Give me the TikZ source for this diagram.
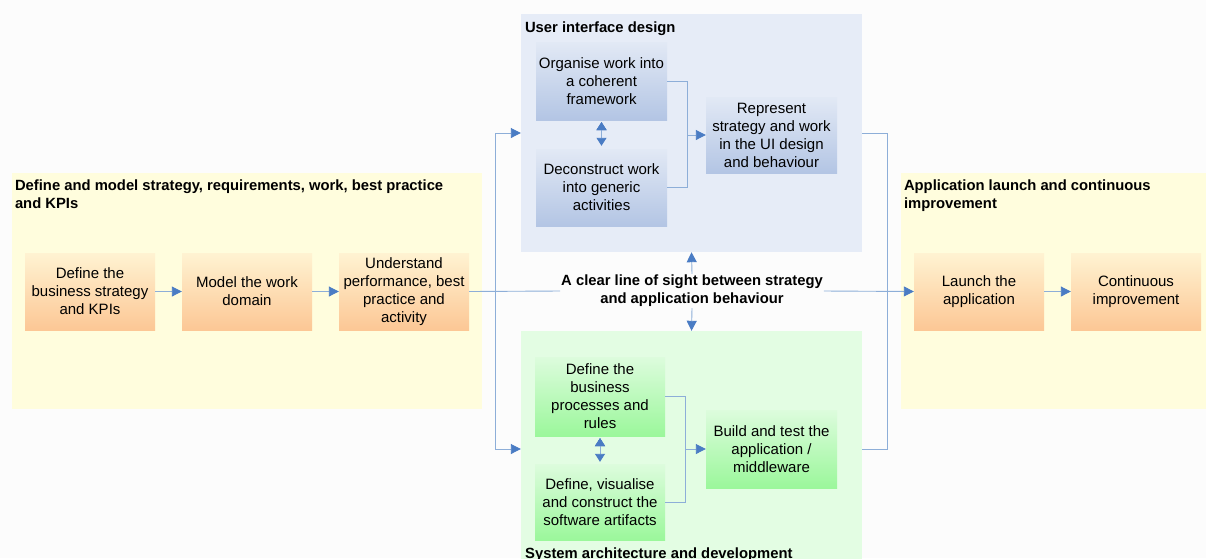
\documentclass[tikz,border=0pt]{standalone}
\usepackage{fontspec}
\setmainfont{Liberation Sans}
\usetikzlibrary{arrows.meta}

\definecolor{tipblue}{HTML}{4A7CC4}
\definecolor{lineblue}{HTML}{8DAED8}
\definecolor{paleyellow}{HTML}{FFFDDD}
\definecolor{paleblue}{HTML}{E6ECF7}
\definecolor{palegreen}{HTML}{E3FDE3}
\definecolor{orangetop}{HTML}{FFF3D2}
\definecolor{orangebot}{HTML}{FCC795}
\definecolor{bluetop}{HTML}{E2E9F5}
\definecolor{bluebot}{HTML}{B3C5E4}
\definecolor{greentop}{HTML}{DDFCDD}
\definecolor{greenbot}{HTML}{9BF79B}

\tikzset{
    panel/.style = {draw=none, inner sep=0pt},
    paneltitle/.style = {anchor=north west, align=left, inner sep=0pt,
        font=\fontsize{14.8}{18}\selectfont\bfseries},
    stage/.style = {draw=none, inner sep=1pt, align=center,
        font=\fontsize{15}{18}\selectfont},
    orangebox/.style = {stage, top color=orangetop, bottom color=orangebot,
        minimum width=130pt, minimum height=77pt},
    bluebox/.style = {stage, top color=bluetop, bottom color=bluebot,
        minimum width=131pt, minimum height=77pt},
    greenbox/.style = {stage, top color=greentop, bottom color=greenbot,
        minimum width=130pt, minimum height=77pt},
    link/.style = {draw=lineblue, line width=0.9pt},
    arr/.style = {link, -{Triangle[length=10pt,width=10pt,color=tipblue]}},
    dblarr/.style = {link, {Triangle[length=8pt,width=10pt,color=tipblue]}-{Triangle[length=8pt,width=10pt,color=tipblue]}}
}

\begin{document}
\begin{tikzpicture}[x=1pt, y=-1pt]
    \fill[white!98!gray] (0,0) rectangle (1206,558);
    \useasboundingbox (0,0) rectangle (1206,558);

    % panels
    \node[panel, fill=paleyellow, minimum width=470pt, minimum height=236pt] (define) at (247,291) {};
    \node[panel, fill=paleyellow, minimum width=310pt, minimum height=236pt] (launchp) at (1056,291) {};
    \node[panel, fill=paleblue, minimum width=341pt, minimum height=238pt] (ui) at (691.5,133) {};
    \node[panel, fill=palegreen, minimum width=341pt, minimum height=236pt] (sys) at (691.5,449) {};

    \node[paneltitle] (defineT) at ([xshift=3pt,yshift=-7pt]define.north west)
        {Define and model strategy, requirements, work, best practice\\and KPIs};
    \node[paneltitle] (launchT) at ([xshift=3pt,yshift=-7pt]launchp.north west)
        {Application launch and continuous\\improvement};
    \node[paneltitle] (uiT) at ([xshift=4pt,yshift=-8pt]ui.north west) {User interface design};
    \node[paneltitle] (sysT) at (525,548) {System architecture and development};

    % stages
    \node[orangebox] (strategy) at (90,291.5) {Define the\\business strategy\\and KPIs};
    \node[orangebox] (domain) at (247,291.5) {Model the work\\domain};
    \node[orangebox] (perform) at (404,291.5) {Understand\\performance, best\\practice and\\activity};
    \node[orangebox] (launch) at (979,291.5) {Launch the\\application};
    \node[orangebox] (improve) at (1136,291.5) {Continuous\\improvement};

    \node[bluebox, minimum height=78pt] (organise) at (601.5,81) {Organise work into\\a coherent\\framework};
    \node[bluebox] (deconstruct) at (601.5,187.5) {Deconstruct work\\into generic\\activities};
    \node[bluebox, minimum height=76pt] (represent) at (771.5,135) {Represent\\strategy and work\\in the UI design\\and behaviour};

    \node[greenbox, minimum height=79pt] (processes) at (600,396.5) {Define the\\business\\processes and\\rules};
    \node[greenbox, minimum height=76pt] (artifacts) at (600,502) {Define, visualise\\and construct the\\software artifacts};
    \node[greenbox, minimum width=131pt, minimum height=78pt] (build) at (771.5,449) {Build and test the\\application /\\middleware};

    \node[align=center, inner sep=1pt, font=\fontsize{14.8}{18}\selectfont\bfseries] (sight) at (692,291)
        {A clear line of sight between strategy\\and application behaviour};

    \coordinate (uijoin) at (687,135);
    \coordinate (sysjoin) at (685,449);
    \coordinate (lsplit) at (495,291);
    \coordinate (rsplit) at (887,291);

    % connectors
    \path [arr] (strategy) edge (domain);
    \path [arr] (domain) edge (perform);
    \path [arr] (launch) edge (improve);

    \path [dblarr] ([yshift=-2pt]organise.south) edge ([yshift=3pt]deconstruct.north);
    \path [dblarr] ([yshift=-2pt]processes.south) edge ([yshift=2pt]artifacts.north);

    \draw [link] (organise.east) -| (uijoin) |- (deconstruct.east);
    \draw [arr] (uijoin) -- (represent.west);
    \draw [link] (processes.east) -| (sysjoin) |- (artifacts.east);
    \draw [arr] (sysjoin) -- (build.west);

    \draw [link] (perform.east) -- (sight.west);
    \draw [arr] (lsplit) |- (ui.west);
    \draw [arr] (lsplit) |- (sys.west);
    \draw [link] (ui.east) -| (rsplit);
    \draw [link] (sys.east) -| (rsplit);
    \draw [arr] (sight.east) -- (launch.west);

    \draw [arr] (sight.north) -- (ui.south);
    \draw [arr] (sight.south) -- (sys.north);
\end{tikzpicture}
\end{document}
